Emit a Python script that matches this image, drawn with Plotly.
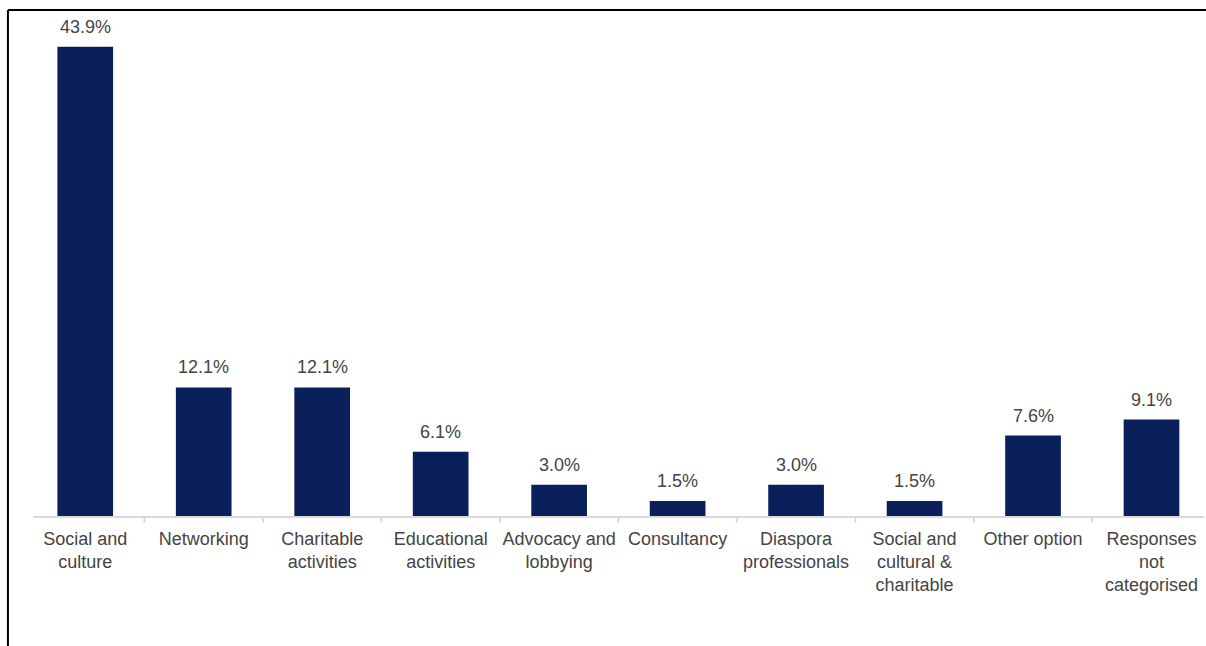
import plotly.graph_objects as go

# Share of responses by activity type
categories = [
    "Social and<br>culture",
    "Networking",
    "Charitable<br>activities",
    "Educational<br>activities",
    "Advocacy and<br>lobbying",
    "Consultancy",
    "Diaspora<br>professionals",
    "Social and<br>cultural &<br>charitable",
    "Other option",
    "Responses<br>not<br>categorised",
]
values = [43.9, 12.1, 12.1, 6.1, 3.0, 1.5, 3.0, 1.5, 7.6, 9.1]
value_labels = [f"{v:.1f}%" for v in values]

BAR_COLOR = "#0b1f5b"
TEXT_COLOR = "#444444"
AXIS_COLOR = "#d9d9d9"
FONT = "Liberation Sans, Arial, sans-serif"

x_idx = list(range(len(categories)))

fig = go.Figure()
fig.add_trace(go.Bar(
    x=x_idx,
    y=values,
    width=0.47,
    marker=dict(color=BAR_COLOR, line=dict(width=0)),
    hoverinfo="skip",
))

for i, (v, lab) in enumerate(zip(values, value_labels)):
    fig.add_annotation(
        x=i, y=v, text=lab, showarrow=False,
        xref="x", yref="y", yanchor="bottom", yshift=8,
        font=dict(family=FONT, size=18, color=TEXT_COLOR),
    )

fig.update_layout(
    width=1206, height=646,
    margin=dict(l=26, r=0, t=10, b=129),
    paper_bgcolor="white",
    plot_bgcolor="white",
    showlegend=False,
    font=dict(family=FONT, size=18, color=TEXT_COLOR),
    xaxis=dict(
        tickmode="array",
        tickvals=x_idx,
        ticktext=categories,
        range=[-0.5, 9.46],
        showgrid=False,
        zeroline=False,
        showline=False,
        ticks="outside",
        ticklen=5,
        tickcolor="rgba(0,0,0,0)",
        tickfont=dict(family=FONT, size=18, color=TEXT_COLOR),
    ),
    yaxis=dict(
        range=[0, 47.34],
        visible=False,
        showgrid=False,
        zeroline=False,
    ),
)

# Category axis baseline
fig.add_shape(type="line", xref="paper", yref="paper",
              x0=0.006, x1=0.9985, y0=0, y1=0,
              line=dict(color=AXIS_COLOR, width=2))

# Category boundary tick marks below the axis line
for b in [i + 0.5 for i in range(len(categories) - 1)]:
    fig.add_shape(
        type="line", xref="x", yref="paper",
        x0=b, x1=b, y0=0, y1=-0.011,
        line=dict(color=AXIS_COLOR, width=2),
    )

# Frame lines along the top and left edges
fig.add_shape(type="line", xref="paper", yref="paper",
              x0=-0.0153, x1=1.0, y0=1.0, y1=1.0,
              line=dict(color="black", width=2))
fig.add_shape(type="line", xref="paper", yref="paper",
              x0=-0.0153, x1=-0.0153, y0=1.0, y1=-0.26,
              line=dict(color="black", width=2))

fig.write_html("out.html")
